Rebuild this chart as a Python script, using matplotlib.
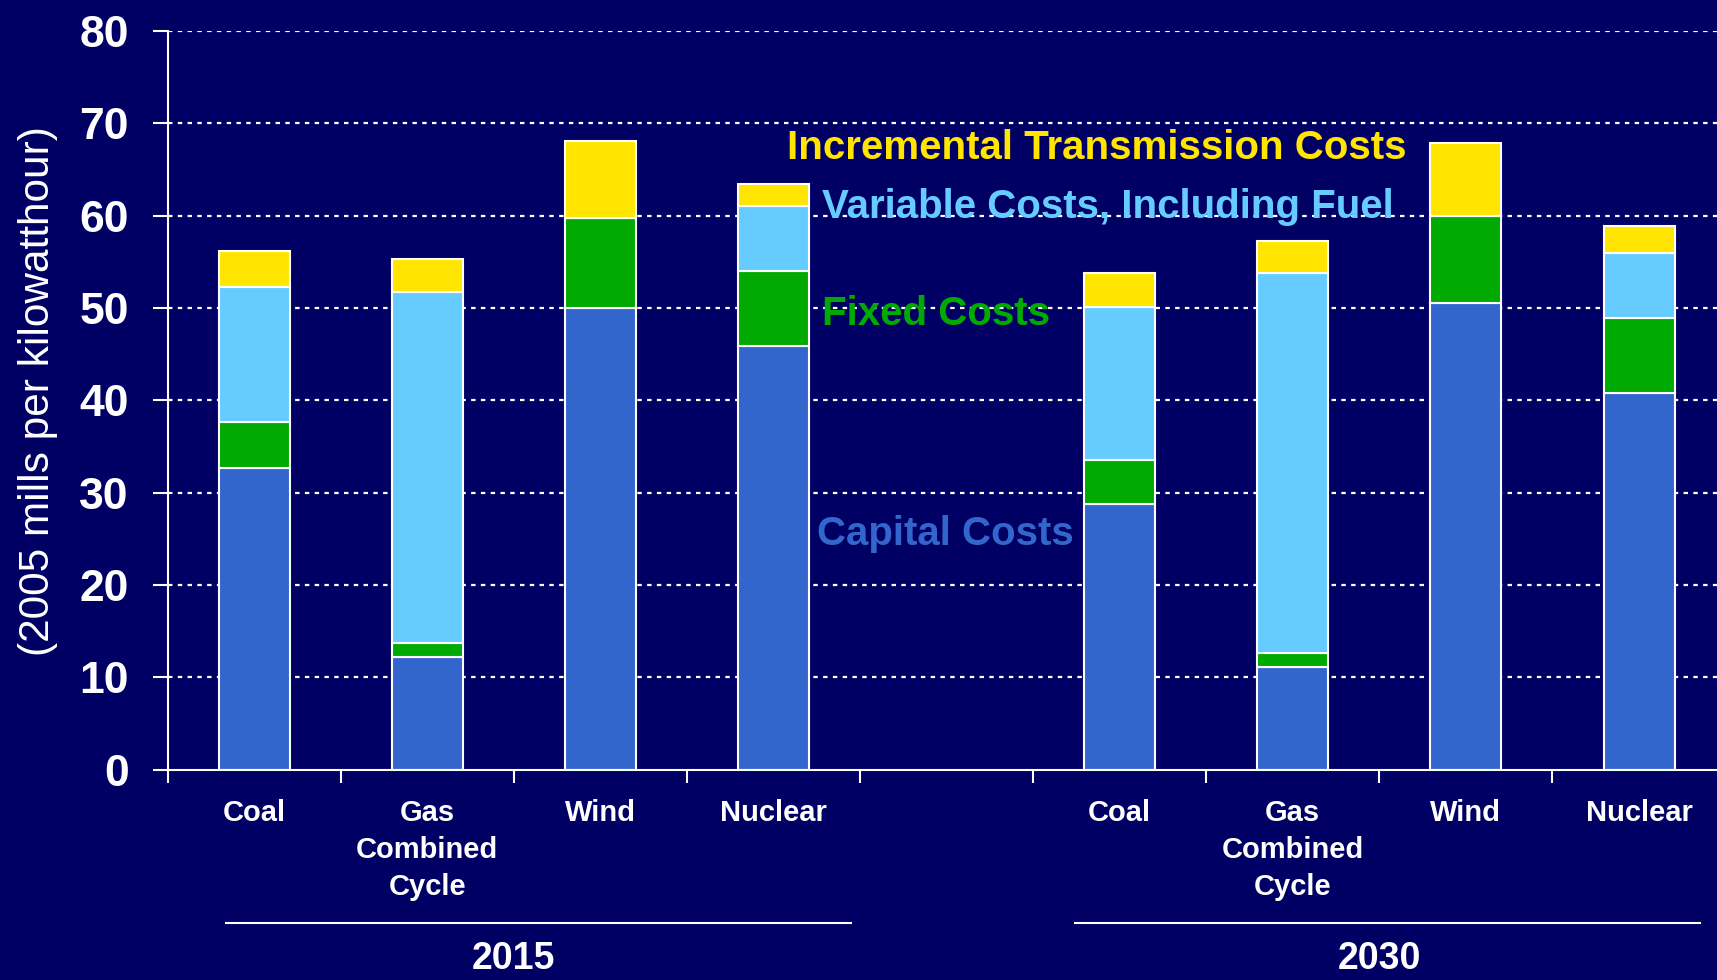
import numpy as np
import matplotlib
matplotlib.use("Agg")
import matplotlib.pyplot as plt
from matplotlib.transforms import blended_transform_factory

plt.rcParams["font.family"] = ["Liberation Sans", "DejaVu Sans"]

# Werte (2005 mills per kWh)
years = ["2015", "2030"]
techs = ["Coal", "Gas\nCombined\nCycle", "Wind", "Nuclear"]
capital = [32.7, 12.2, 50.0, 45.9, 28.8, 11.1, 50.5, 40.8]
fixed = [5.0, 1.5, 9.7, 8.1, 4.7, 1.5, 9.5, 8.1]
variable = [14.6, 38.0, 0.0, 7.0, 16.6, 41.2, 0.0, 7.0]
transmission = [3.9, 3.6, 8.4, 2.4, 3.7, 3.4, 7.9, 3.0]

bg = "#000064"
c_cap, c_fix, c_var, c_tr = "#3366CC", "#00AA00", "#66CCFF", "#FFE500"

# 4 Balken je Jahr, eine leere Spalte dazwischen
x = np.r_[np.arange(4), np.arange(4) + 5]

fig = plt.figure(figsize=(17.17, 9.8), dpi=100, facecolor=bg)
ax = fig.add_axes([0.0976, 0.2145, 0.9074, 0.754], facecolor=bg)

for y in range(10, 81, 10):
    ax.axhline(y, color="white", lw=1.6, ls=(0, (2.0, 2.4)), zorder=1)

bottom = np.zeros(len(x))
for vals, col in [(capital, c_cap), (fixed, c_fix), (variable, c_var), (transmission, c_tr)]:
    ax.bar(x, vals, bottom=bottom, width=0.41, color=col, edgecolor="white", linewidth=1.5, zorder=2)
    bottom += np.array(vals)

ax.set_xlim(-0.5, 8.5)
ax.set_ylim(0, 80)
for s in ["top", "right"]:
    ax.spines[s].set_visible(False)
for s in ["left", "bottom"]:
    ax.spines[s].set_color("white")
    ax.spines[s].set_linewidth(1.5)

ax.set_yticks(range(0, 81, 10))
ax.set_yticklabels([str(v) for v in range(0, 81, 10)], fontweight="bold")
ax.tick_params(axis="y", colors="white", labelsize=32, length=11, width=1.5, pad=17)

ax.set_xticks(np.arange(-0.5, 9, 1))
ax.set_xticklabels([])
ax.set_xticks(x, minor=True)
ax.set_xticklabels(techs * 2, minor=True, fontweight="bold", linespacing=1.42)
ax.tick_params(axis="x", which="major", colors="white", length=9, width=1.5)
ax.tick_params(axis="x", which="minor", length=0, pad=21, labelsize=21, labelcolor="white")

# Jahresgruppen
trans = blended_transform_factory(ax.transData, fig.transFigure)
line_pad = [(-0.165, 0.45), (-0.26, 0.35)]
for g, yr in enumerate(years):
    xs = x[g * 4:(g + 1) * 4]
    lo, hi = line_pad[g]
    ax.plot([xs[0] + lo, xs[-1] + hi], [0.0585, 0.0585], color="white", lw=1.5,
            transform=trans, clip_on=False)
    ax.text(xs.mean(), 0.003, yr, transform=trans, ha="center", va="bottom",
            fontsize=27, fontweight="bold", color="white")

# Beschriftungen der Kostenarten
ax.text(3.08, 67.3, "Incremental Transmission Costs", color=c_tr, fontsize=29, fontweight="bold", va="center")
ax.text(3.28, 60.9, "Variable Costs, Including Fuel", color=c_var, fontsize=29, fontweight="bold", va="center")
ax.text(3.28, 49.4, "Fixed Costs", color=c_fix, fontsize=29, fontweight="bold", va="center")
ax.text(3.25, 25.5, "Capital Costs", color=c_cap, fontsize=29, fontweight="bold", va="center")

fig.text(0.022, 0.601, "(2005 mills per kilowatthour)", rotation=90, fontsize=30.5,
         color="white", ha="center", va="center")

fig.savefig("out.png", dpi=100, facecolor=bg)
